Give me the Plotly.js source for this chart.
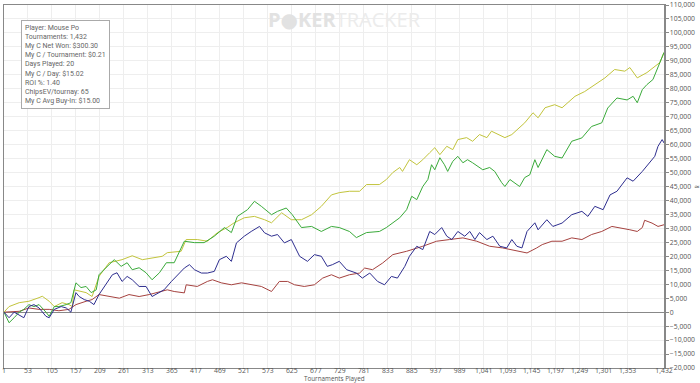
<!DOCTYPE html>
<html>
<head>
<meta charset="utf-8">
<script src="https://cdn.plot.ly/plotly-3.0.1.min.js"></script>
<style>html,body{margin:0;padding:0;background:#fff;}#chart{width:700px;height:383px;}</style>
</head>
<body>
<div id="chart"></div>
<script>
// Values in thousands of chips
const yellowT = [1,12,34,55,77,84,99,110,127,142,149,153,179,192,207,229,257,279,301,322,344,355,385,396,420,442,464,485,500,522,544,566,581,603,624,646,668,689,711,728,750,772,787,815,830,844,859,865,880,896,909,924,935,946,961,974,985,1004,1017,1032,1048,1058,1072,1087,1102,1115,1130,1148,1159,1174,1195,1211,1239,1260,1282,1304,1325,1347,1358,1374,1395,1408,1423,1432];
const yellowV = [0,2,3.4,3.9,5.2,5.7,3.9,2,3.4,2.7,2,8,7,5.6,12.8,17.7,18.8,20.2,18.8,19.5,20,21.3,21.8,26,26,25.4,28.5,30.3,32,33.8,34.3,33.1,32,35.6,33.1,33.1,34.9,37.9,42,42.8,43.3,43.3,45.7,45.7,47.5,50,51.8,50.4,54.6,52.8,54.6,57.1,58.9,56.4,59.4,58.2,61.8,62.5,61.2,63.6,62.5,64.8,63.6,62.5,63.6,65.4,67.8,71.4,69.6,73.2,74.3,73.2,77.3,79,81.5,83.9,86.9,86.3,87.6,83.9,85.8,87.6,89.4,93];

const greenT = [1,12,23,34,44,55,66,77,92,99,110,120,136,146,157,168,179,190,201,207,222,240,255,268,279,294,309,322,338,353,370,392,414,435,457,479,494,507,529,544,559,581,594,613,626,646,668,689,711,728,750,765,787,815,830,844,859,874,885,896,909,920,928,935,946,956,963,974,985,996,1006,1017,1028,1039,1054,1065,1080,1087,1098,1108,1119,1130,1141,1152,1159,1178,1195,1211,1232,1254,1275,1297,1310,1330,1352,1365,1374,1385,1395,1408,1419,1430,1432];
const greenV = [0,-3.8,-2,0,1,2.7,2,2.7,0,-1.5,2,2,2.7,3.4,10.5,8.8,9.2,7,8,13.4,15.9,18.8,16.4,17.7,15.2,15.9,14.1,11.6,14.1,17.7,17.7,25.4,24.9,24.9,27.2,30.3,28.5,34.3,36.7,39.7,37.9,34.9,36.1,37.3,34.9,30.3,30.7,28.9,30.7,30.3,28.9,26.7,28.5,28.9,30.3,32,33.8,36.7,41.5,40.3,45,47.5,52.8,51,55.3,52.8,50.4,54,55.8,53.5,54.6,53.5,52.2,51,51.8,50.4,46.4,45,47.5,46.4,45,48.2,49.2,54.6,51.8,58.2,55.8,55.2,61.2,62.4,66.5,67.8,73.1,76.7,76,77.3,75,79.7,81.5,83.3,87.6,91.6,93];

const blueT = [1,12,23,34,44,55,66,77,92,99,110,125,136,146,157,164,175,186,196,207,222,236,246,257,268,279,294,309,322,338,348,364,377,392,403,414,429,442,457,468,483,494,505,522,537,555,566,581,594,609,624,642,659,674,689,702,713,728,744,765,778,794,811,826,841,854,870,880,896,909,924,935,950,961,972,985,1000,1011,1022,1032,1048,1061,1076,1091,1102,1113,1124,1135,1152,1159,1178,1191,1211,1232,1254,1267,1282,1300,1315,1330,1352,1365,1385,1397,1412,1419,1428,1432];
const blueV = [0,-2,0,-1,-2,2,2.7,1.5,-1.5,-2,1,2,1.5,0,7,5.6,4.5,3.9,2.7,6.3,9.8,13.4,14.1,11,12.8,11.6,9.2,9.2,5.6,7,8,11,13.4,15.8,17,15.2,14,14,14.6,18.8,20,18.2,24.8,27.2,28.9,30.7,28.4,27.2,27.8,24.8,26,20,18.2,20.6,20,16.4,17,18.2,15.2,14,12.2,14,11,9.8,12.8,12.2,16.4,20,23.6,22.4,28.9,27.8,30.3,27.2,26,28.9,27.2,28.9,26,28.5,26,27.2,23.6,23,26,23.6,23,28.9,32,29.5,33.1,30.7,31.9,34.9,36.1,34.3,37.9,36.7,42,43.3,48.1,46.9,50.4,52.8,55.8,59.4,61.8,60.6];

const redT = [1,34,55,77,99,120,142,157,179,192,207,229,251,272,294,316,338,355,370,392,396,420,442,453,472,494,516,537,559,581,598,616,631,652,674,692,711,728,750,772,783,800,822,844,874,909,939,967,996,1026,1054,1082,1113,1135,1156,1168,1189,1211,1232,1254,1275,1297,1319,1339,1358,1374,1385,1390,1406,1419,1432];
const redV = [0,0.3,1.5,1,1,0.5,1,2.7,3.9,4.5,6.3,5.6,5,6.3,5.6,6.3,7.4,8,7.4,6.9,9.8,9.2,11,11.6,10.5,9.8,10.5,9.8,9.2,7.4,11,11,9.8,9.2,9.8,12.2,13.4,12.2,13.4,14,15.8,15.2,17.6,20.6,21.8,23.6,25.4,26,26.6,25.4,23.6,23,21.8,21.2,23,24.2,25.4,25.4,26.6,26,27.8,28.9,30.7,30.2,29.5,28.9,30.3,32.9,31.9,30.7,31.3];

const xTicks = [1,53,105,157,209,261,313,365,417,469,521,573,625,677,729,781,833,885,937,989,1041,1093,1145,1197,1249,1301,1353,1432];
const xTickText = ["1","53","105","157","209","261","313","365","417","469","521","573","625","677","729","781","833","885","937","989","1,041","1,093","1,145","1,197","1,249","1,301","1,353","1,432"];

const statLines = ["Player: Mouse Po","Tournaments: 1,432","My C Net Won: $300.30","My C / Tournament: $0.21","Days Played: 20","My C / Day: $15.02","ROI %: 1.40","ChipsEV/tournay: 65","My C Avg Buy-In: $15.00"];

const toChips = a => a.map(v => v * 1000);
function line(t, v, color) {
  return {x: t, y: toChips(v), type: 'scatter', mode: 'lines', line: {color: color, width: 1}, hoverinfo: 'skip', showlegend: false};
}

const data = [
  line(redT, redV, '#a5423f'),
  line(yellowT, yellowV, '#c2c43c'),
  line(greenT, greenV, '#3aaa3a'),
  line(blueT, blueV, '#2e2e8f')
];

const fnt = {family: 'Open Sans, DejaVu Sans, sans-serif', size: 6.8, color: '#555'};

const layout = {
  width: 700, height: 383,
  margin: {l: 4, r: 36, t: 5, b: 15, pad: 0},
  paper_bgcolor: '#fff', plot_bgcolor: '#fff',
  showlegend: false,
  xaxis: {
    range: [1, 1432], tickmode: 'array', tickvals: xTicks, ticktext: xTickText,
    tickfont: fnt, showgrid: true, gridcolor: '#eeeeee', gridwidth: 1,
    zeroline: false, showline: true, linecolor: '#888', linewidth: 1, mirror: true,
    ticks: '', ticklabelstandoff: -4, fixedrange: true
  },
  yaxis: {
    side: 'right', range: [-20000, 110000], dtick: 5000, tick0: 0, tickformat: ',d',
    tickfont: fnt, showgrid: true, gridcolor: '#eeeeee', gridwidth: 1,
    zeroline: true, zerolinecolor: '#888', zerolinewidth: 1,
    showline: true, linecolor: '#888', linewidth: 1.5, mirror: true,
    ticks: 'outside', ticklen: 3, tickcolor: '#888', fixedrange: true
  },
  annotations: [
    {xref: 'paper', yref: 'paper', x: 0.5, y: -0.029, xanchor: 'center', yanchor: 'middle',
     text: 'Tournaments Played', showarrow: false,
     font: {family: 'Open Sans, DejaVu Sans, sans-serif', size: 6.3, color: '#555'}},
    {xref: 'paper', yref: 'paper', x: 0.026, y: 0.959, xanchor: 'left', yanchor: 'top',
     text: statLines.join('<br>'), align: 'left', showarrow: false,
     font: {family: 'Liberation Sans Narrow, Roboto, sans-serif', size: 7, color: '#666'},
     bgcolor: '#fff', bordercolor: '#aaa', borderwidth: 1, borderpad: 3},
    {xref: 'paper', yref: 'paper', x: 0.397, y: 0.96, xanchor: 'left', yanchor: 'middle',
     text: '<b>P●KER</b><span style="color:#ececec">TRACKER</span>', showarrow: false,
     font: {family: 'Open Sans, DejaVu Sans, sans-serif', size: 20, color: '#e2e2e2'}},
    {xref: 'paper', yref: 'y', x: 1.05, y: 45000, xanchor: 'center', yanchor: 'middle',
     text: '≈', showarrow: false, font: {family: 'DejaVu Sans', size: 7, color: '#666'}}
  ]
};

Plotly.newPlot('chart', data, layout, {displayModeBar: false, staticPlot: true});
</script>
</body>
</html>
